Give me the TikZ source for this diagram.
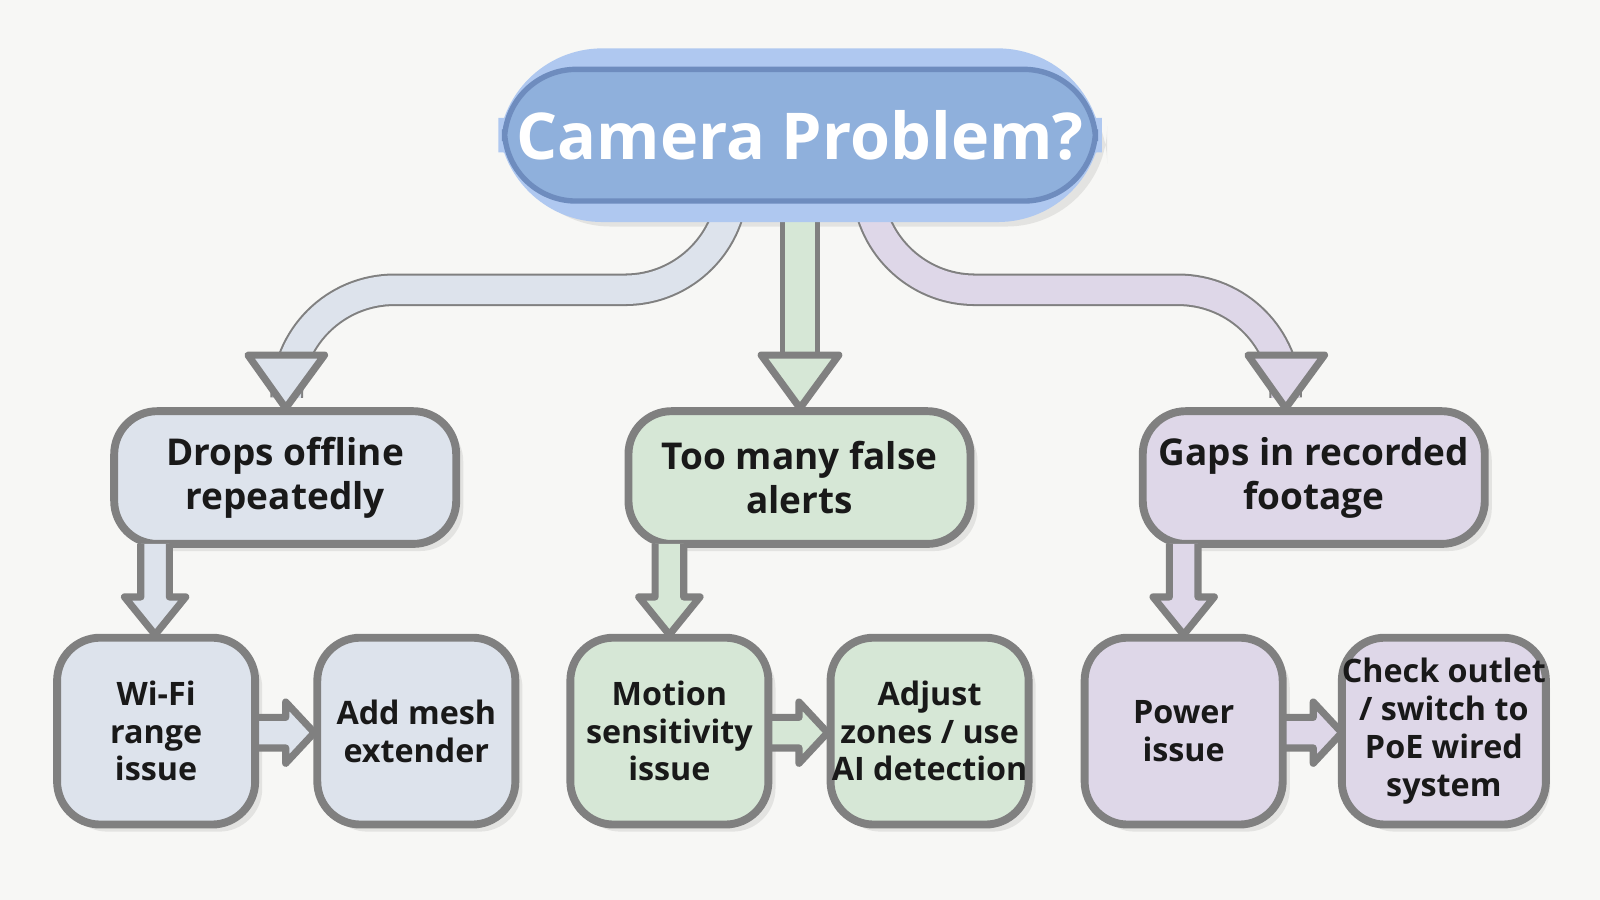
\documentclass[tikz,border=0pt]{standalone}
\usepackage{fontspec}
\setmainfont{Open Sans}
\begin{document}
\begin{tikzpicture}[x=0.01cm,y=-0.01cm,
  bx/.style={draw=gray!75!black!80,line width=2.2pt,rounded corners=12pt,align=center,text=black!90,inner sep=0pt},
  mid/.style={bx,minimum width=3.35cm,minimum height=1.30cm,font=\fontsize{10.3}{12.2}\selectfont\bfseries},
  low/.style={bx,minimum width=1.94cm,minimum height=1.83cm,font=\fontsize{9}{10.5}\selectfont\bfseries},
  sh/.style={fill=black,opacity=0.08,rounded corners=12pt},
  ol/.style={draw=gray!75!black!80,line width=2pt,line join=round}]
\fill[white!96!black!0,fill={rgb,255:red,247;green,247;blue,245}] (0,0) rectangle (1568,882);
\useasboundingbox (0,0) rectangle (1568,882);
\definecolor{cb}{HTML}{DDE3EC}\definecolor{cg}{HTML}{D6E7D6}\definecolor{cp}{HTML}{DED7E8}
% shadows
\foreach \a/\b/\c/\d in {112/403/447/533,616/403/951/533,1120/403/1455/533,56/625/250/808,311/625/505/808,559/625/753/808,814/625/1008/808,1063/625/1257/808,1318/625/1512/808}
  \fill[sh] (\a+7,\b+7) rectangle (\c+7,\d+7);
\fill[sh,rounded corners=28pt] (500,62) rectangle (1085,222);
% big arrows (shafts)
\draw[line width=32pt*0.01/0.0352778,draw=gray!75!black!80,rounded corners=30pt] (718,205) -- (718,284) -- (281,284) -- (281,352);
\draw[line width=28pt*0.01/0.0352778,draw=cb,rounded corners=30pt] (718,205) -- (718,284) -- (281,284) -- (281,354);
\draw[line width=32pt*0.01/0.0352778,draw=gray!75!black!80,rounded corners=30pt] (850,205) -- (850,284) -- (1260,284) -- (1260,352);
\draw[line width=28pt*0.01/0.0352778,draw=cp,rounded corners=30pt] (850,205) -- (850,284) -- (1260,284) -- (1260,354);
\draw[ol,fill=cg] (768,205) -- (768,348) -- (800,348) -- (800,205);
\fill[cg] (769,205) rectangle (799,352);
% heads
\draw[ol,fill=cb] (243,348) -- (318,348) -- (280,400) -- cycle;
\draw[ol,fill=cg] (746,348) -- (822,348) -- (784,400) -- cycle;
\draw[ol,fill=cp] (1223,348) -- (1298,348) -- (1260,400) -- cycle;
% title
\node[draw={rgb,255:red,175;green,200;blue,240},line width=6pt,fill={rgb,255:red,143;green,176;blue,220},rounded corners=26pt,minimum width=5.70cm,minimum height=1.49cm] (out) at (784,132.5) {};
\node[draw={rgb,255:red,110;green,140;blue,190},line width=1.5pt,fill={rgb,255:red,143;green,176;blue,220},rounded corners=20pt,minimum width=5.52cm,minimum height=1.29cm,text=white,font=\fontsize{18}{20}\selectfont\bfseries] (ti) at (784,132.5) {Camera Problem?};
% middle boxes
\node[mid,fill=cb] (a) at (279.5,468) {Drops offline\\repeatedly};
\node[mid,fill=cg] (b) at (783.5,468) {Too many false\\alerts};
\node[mid,fill=cp] (c) at (1287.5,468) {Gaps in recorded\\footage};
% small arrows
\foreach \x/\f in {152/cb,656/cg,1160/cp}{
  \draw[ol,fill=\f] (\x-14,533) -- (\x-14,585) -- (\x-30,585) -- (\x,622) -- (\x+30,585) -- (\x+14,585) -- (\x+14,533);}
\foreach \x/\f in {250/cb,753/cg,1257/cp}{
  \draw[ol,fill=\f] (\x,703) -- (\x+30,703) -- (\x+30,688) -- (\x+58,718) -- (\x+30,748) -- (\x+30,733) -- (\x,733);}
% low boxes
\node[low,fill=cb] (a1) at (153,716.5) {Wi-Fi\\range\\issue};
\node[low,fill=cb] (a2) at (408,716.5) {Add mesh\\extender};
\node[low,fill=cg] (b1) at (656,716.5) {Motion\\sensitivity\\issue};
\node[low,fill=cg] (b2) at (911,716.5) {Adjust\\zones / use\\AI detection};
\node[low,fill=cp] (c1) at (1160,716.5) {Power\\issue};
\node[low,fill=cp] (c2) at (1415,716.5) {Check outlet\\/ switch to\\PoE wired\\system};
\end{tikzpicture}
\end{document}
